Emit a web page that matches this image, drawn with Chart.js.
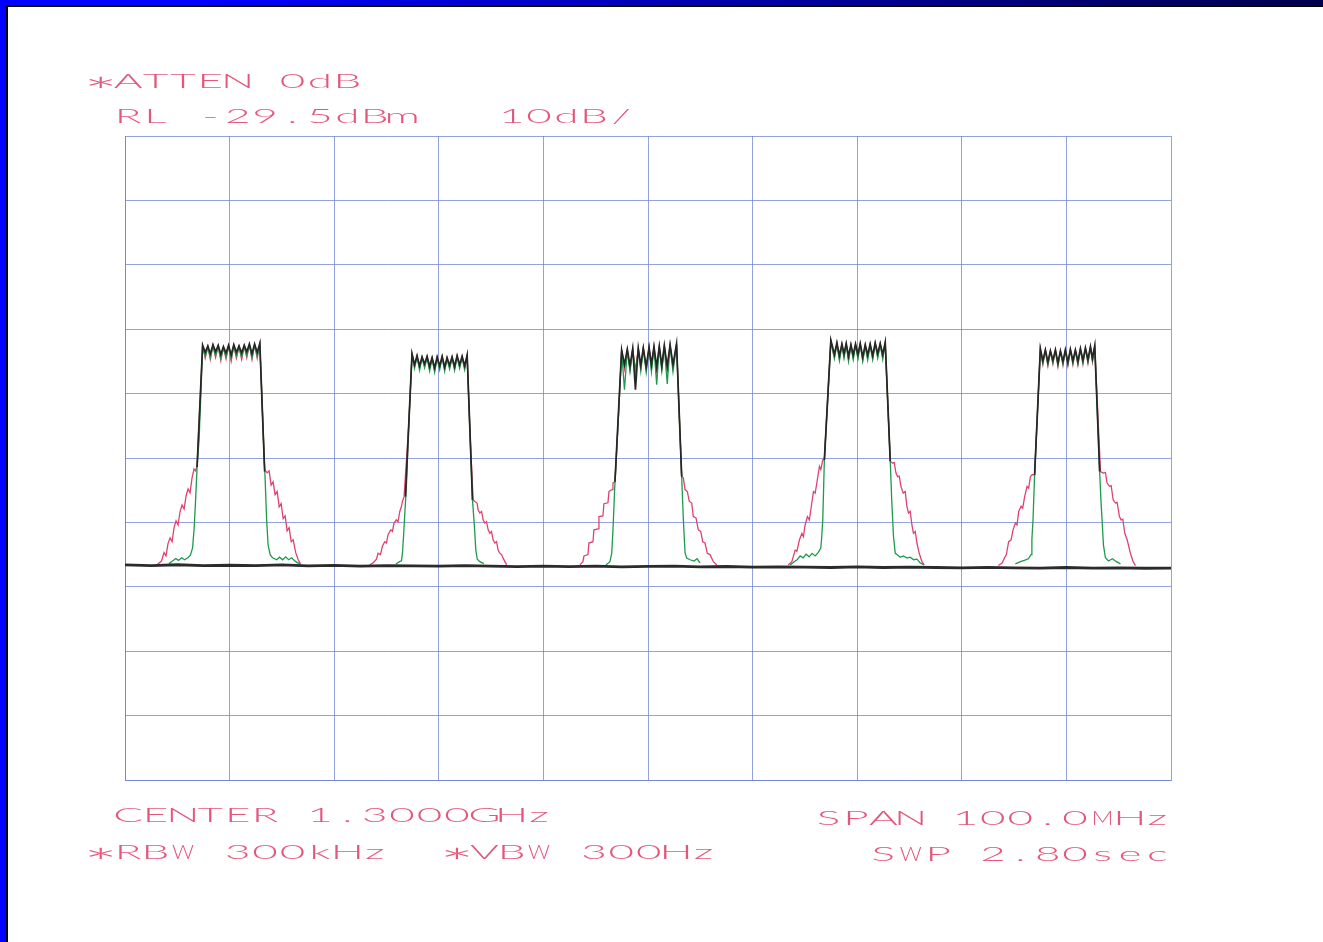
<!DOCTYPE html>
<html><head><meta charset="utf-8">
<script src="https://cdn.jsdelivr.net/npm/chart.js@4.4.1/dist/chart.umd.min.js"></script>
<style>
html,body{margin:0;padding:0;background:#fff;width:1323px;height:942px;overflow:hidden;}
#wrap{position:relative;width:1323px;height:942px;background:#fff;}
canvas{position:absolute;left:0;top:0;}
#txt{position:absolute;left:0;top:0;pointer-events:none;}
.bar{position:absolute;}
</style></head><body>
<div id="wrap">
<canvas id="c" width="1323" height="942"></canvas>
<svg id="txt" width="1323" height="942" xmlns="http://www.w3.org/2000/svg"></svg>
<div class="bar" style="left:0;top:0;width:1323px;height:5px;background:linear-gradient(to right,#0000ff 15%,#00004c 100%)"></div>
<div class="bar" style="left:0;top:5px;width:1323px;height:2px;background:#000"></div>
<div class="bar" style="left:0;top:0;width:6px;height:942px;background:#0000ff"></div>
<div class="bar" style="left:6px;top:5px;width:2px;height:937px;background:#000"></div>
</div>
<script>
// ---- axes (MHz, dBm) ----
const xTicks = [1250,1260,1270,1280,1290,1300,1310,1320,1330,1340,1350];
const yTicks = [-129.5,-119.5,-109.5,-99.5,-89.5,-79.5,-69.5,-59.5,-49.5,-39.5,-29.5];

// ---- noise floor (black) ----
const floorF = [1250,1252.5,1255,1257.5,1260,1262.5,1265,1267.5,1270,1272.5,1275,1277.5,1280,1282.5,1285,1287.5,1290,1292.5,1295,1297.5,1300,1302.5,1305,1307.5,1310,1312.5,1315,1317.5,1320,1322.5,1325,1327.5,1330,1332.5,1335,1337.5,1340,1342.5,1345,1347.5,1350];
const floorV = [-96.10,-96.20,-96.08,-96.22,-96.15,-96.20,-96.10,-96.25,-96.18,-96.30,-96.20,-96.26,-96.30,-96.20,-96.30,-96.36,-96.28,-96.36,-96.30,-96.40,-96.34,-96.30,-96.40,-96.35,-96.45,-96.40,-96.45,-96.50,-96.40,-96.50,-96.45,-96.50,-96.55,-96.48,-96.55,-96.60,-96.50,-96.60,-96.55,-96.62,-96.60];

// ---- channel 1 (1260 MHz) ----
const ch1TopF = [1257.42,1257.67,1257.92,1258.16,1258.41,1258.66,1258.91,1259.16,1259.41,1259.66,1259.90,1260.15,1260.40,1260.65,1260.90,1261.15,1261.40,1261.64,1261.89,1262.14,1262.39,1262.64,1262.89];
const ch1BlackTop = [-62.0,-63.1,-62.1,-63.3,-61.9,-63.0,-62.0,-63.4,-62.2,-63.2,-62.0,-63.5,-61.9,-63.1,-62.1,-63.2,-62.0,-63.0,-61.8,-63.3,-61.8,-63.1,-61.7];
const ch1GreenTop = [-62.2,-63.7,-62.3,-63.9,-62.1,-63.6,-62.2,-64.0,-62.4,-63.8,-62.2,-64.1,-62.1,-63.7,-62.3,-63.8,-62.2,-63.6,-62.0,-63.9,-62.0,-63.7,-61.9];
const ch1RedTop = [-62.1,-64.0,-62.2,-64.2,-62.0,-63.9,-62.1,-64.4,-62.3,-64.1,-62.1,-64.5,-62.0,-64.0,-62.2,-64.2,-62.1,-63.9,-61.9,-64.2,-61.9,-64.0,-61.8];
const ch1BlackL = [[1256.89,-80.9]];
const ch1BlackR = [[1263.35,-81.6]];
const ch1GreenL = [[1254.20,-95.9],[1254.55,-95.5],[1254.85,-95.1],[1255.12,-95.4],[1255.41,-95.0],[1255.70,-95.3],[1256.00,-95.0],[1256.25,-94.6],[1256.46,-93.45],[1256.60,-90.65],[1256.75,-86.0],[1256.89,-81.0],[1257.08,-76.7],[1257.27,-68.9]];
const ch1GreenR = [[1263.05,-68.6],[1263.24,-76.7],[1263.40,-82.9],[1263.54,-89.1],[1263.68,-93.0],[1263.88,-94.5],[1264.11,-95.0],[1264.50,-95.3],[1264.78,-94.9],[1265.07,-95.3],[1265.36,-94.85],[1265.65,-95.3],[1265.93,-95.0],[1266.32,-95.6],[1266.70,-95.95]];
const ch1RedL = [[1253.11,-96.0],[1253.49,-95.5],[1253.73,-94.2],[1253.92,-94.7],[1254.11,-92.8],[1254.31,-91.9],[1254.50,-92.5],[1254.69,-90.3],[1254.88,-89.25],[1255.07,-89.9],[1255.26,-87.85],[1255.45,-86.8],[1255.65,-87.4],[1255.84,-85.4],[1256.03,-84.3],[1256.22,-84.9],[1256.41,-82.6],[1256.60,-81.2],[1256.75,-81.5],[1256.89,-80.7]];
const ch1RedR = [[1263.35,-81.3],[1263.59,-81.8],[1263.78,-81.5],[1263.97,-83.7],[1264.16,-83.2],[1264.35,-85.2],[1264.55,-84.7],[1264.74,-87.1],[1264.93,-86.6],[1265.12,-88.9],[1265.31,-88.5],[1265.50,-90.8],[1265.69,-90.3],[1265.89,-92.5],[1266.08,-92.2],[1266.32,-94.2],[1266.56,-95.3],[1266.79,-96.0]];

// ---- channel 2 (1280 MHz) ----
const ch2TopF = [1277.44,1277.68,1277.92,1278.16,1278.40,1278.64,1278.88,1279.12,1279.36,1279.60,1279.84,1280.08,1280.32,1280.56,1280.79,1281.03,1281.27,1281.51,1281.75,1281.99,1282.23,1282.47,1282.71];
const ch2BlackTop = [-63.3,-65.0,-63.6,-65.2,-63.8,-64.9,-63.7,-65.3,-63.9,-65.5,-63.8,-65.2,-63.7,-65.4,-63.9,-65.1,-63.8,-65.3,-63.6,-65.0,-63.7,-65.2,-63.5];
const ch2GreenTop = [-63.5,-65.6,-63.8,-65.9,-64.0,-65.5,-63.9,-66.0,-64.1,-66.2,-64.0,-65.8,-63.9,-66.0,-64.1,-65.7,-64.0,-65.9,-63.8,-65.6,-63.9,-65.8,-63.7];
const ch2RedTop = [-63.4,-65.3,-63.7,-65.5,-63.9,-65.2,-63.8,-65.6,-64.0,-65.8,-63.9,-65.5,-63.8,-65.7,-64.0,-65.4,-63.9,-65.6,-63.7,-65.3,-63.8,-65.5,-63.6];
const ch2BlackL = [[1276.81,-85.5]];
const ch2BlackR = [[1283.22,-86.0]];
const ch2GreenL = [[1275.90,-95.95],[1276.25,-95.6],[1276.43,-95.47],[1276.53,-94.2],[1276.65,-91.1],[1276.77,-87.5],[1276.89,-84.4],[1277.13,-74.3]];
const ch2GreenR = [[1282.97,-75.1],[1283.22,-86.0],[1283.40,-90.0],[1283.54,-93.8],[1283.68,-95.2],[1283.92,-95.6],[1284.31,-95.9]];
const ch2RedL = [[1273.40,-96.1],[1273.71,-95.8],[1274.04,-95.2],[1274.19,-94.3],[1274.42,-94.5],[1274.61,-93.2],[1274.83,-92.5],[1274.99,-92.7],[1275.15,-91.4],[1275.41,-90.65],[1275.57,-90.9],[1275.72,-89.6],[1275.94,-89.1],[1276.10,-89.4],[1276.27,-87.8],[1276.43,-87.0],[1276.52,-86.25],[1276.68,-85.5],[1277.13,-74.3]];
const ch2RedR = [[1282.97,-75.1],[1283.28,-86.0],[1283.44,-86.25],[1283.66,-86.5],[1283.75,-87.5],[1283.92,-88.05],[1284.09,-87.8],[1284.24,-89.1],[1284.40,-89.6],[1284.56,-89.4],[1284.72,-90.65],[1284.88,-91.2],[1285.04,-90.9],[1285.19,-92.2],[1285.36,-92.7],[1285.52,-92.5],[1285.67,-93.8],[1285.84,-94.3],[1286.00,-94.5],[1286.15,-95.05],[1286.48,-96.1]];

// ---- channel 3 (1300 MHz) ----
const ch3TopF = [1297.48,1297.75,1298.02,1298.28,1298.54,1298.80,1299.07,1299.31,1299.55,1299.83,1300.10,1300.33,1300.57,1300.83,1301.08,1301.32,1301.56,1301.84,1302.11,1302.39,1302.73];
const ch3BlackTop = [-62.7,-65.0,-62.6,-65.2,-62.5,-68.9,-62.45,-65.1,-62.4,-65.3,-62.3,-65.0,-62.2,-65.4,-62.15,-65.2,-62.05,-65.3,-61.9,-65.0,-61.75];
const ch3GreenTop = [-62.85,-68.9,-62.75,-66.1,-62.65,-66.3,-62.6,-66.0,-62.55,-66.2,-62.45,-66.1,-62.35,-68.1,-62.3,-66.0,-62.2,-68.0,-62.05,-66.1,-61.9];
const ch3RedTop = [-62.8,-65.7,-62.7,-65.8,-62.6,-65.9,-62.5,-65.6,-62.45,-65.8,-62.35,-65.7,-62.25,-65.9,-62.2,-65.6,-62.1,-65.8,-61.95,-65.6,-61.8];
const ch3BlackL = [[1296.84,-83.2]];
const ch3BlackR = [[1303.22,-82.4]];
const ch3GreenL = [[1295.98,-96.1],[1296.36,-95.6],[1296.53,-94.3],[1296.62,-91.7],[1296.72,-88.05],[1296.81,-84.4],[1296.94,-80.55],[1297.18,-72.8]];
const ch3GreenR = [[1302.97,-72.0],[1303.22,-82.4],[1303.38,-89.1],[1303.54,-94.2],[1303.70,-95.05],[1304.02,-95.3],[1304.40,-95.5],[1304.69,-95.15],[1304.98,-95.8]];
const ch3RedL = [[1293.49,-96.1],[1293.78,-95.6],[1293.88,-94.7],[1294.26,-94.5],[1294.35,-92.7],[1294.74,-92.5],[1294.83,-90.65],[1295.22,-90.5],[1295.31,-88.6],[1295.69,-88.5],[1295.79,-86.6],[1296.17,-86.45],[1296.27,-84.7],[1296.56,-84.4],[1296.65,-83.35],[1296.84,-83.2],[1297.18,-72.8]];
const ch3RedR = [[1302.97,-72.0],[1303.22,-82.4],[1303.38,-82.6],[1303.54,-84.4],[1303.76,-84.7],[1303.95,-86.25],[1304.18,-86.5],[1304.33,-88.6],[1304.59,-88.8],[1304.81,-90.65],[1305.04,-90.9],[1305.23,-92.5],[1305.45,-92.7],[1305.67,-94.3],[1305.93,-94.5],[1306.25,-95.6],[1306.58,-96.1]];

// ---- channel 4 (1320 MHz) ----
const ch4TopF = [1317.48,1317.82,1318.06,1318.30,1318.54,1318.74,1318.95,1319.17,1319.40,1319.62,1319.84,1320.07,1320.29,1320.53,1320.77,1321.00,1321.24,1321.48,1321.72,1321.96,1322.20,1322.44,1322.68];
const ch4BlackTop = [-61.2,-63.4,-61.6,-63.6,-61.8,-63.3,-61.7,-63.7,-61.9,-63.5,-61.8,-63.4,-61.7,-63.8,-61.9,-63.5,-61.8,-63.6,-61.6,-63.3,-61.7,-63.4,-61.5];
const ch4GreenTop = [-61.4,-64.1,-61.8,-64.4,-62.0,-64.0,-61.9,-64.5,-62.1,-64.2,-62.0,-64.1,-61.9,-64.5,-62.1,-64.3,-62.0,-64.2,-61.8,-64.0,-61.9,-64.2,-61.7];
const ch4RedTop = [-61.3,-63.9,-61.7,-64.1,-61.9,-63.8,-61.8,-64.2,-62.0,-64.0,-61.9,-63.9,-61.8,-64.3,-62.0,-64.0,-61.9,-64.1,-61.7,-63.8,-61.8,-63.9,-61.6];
const ch4BlackL = [[1316.86,-79.8]];
const ch4BlackR = [[1323.16,-80.0]];
const ch4GreenL = [[1313.59,-96.1],[1313.97,-95.6],[1314.26,-95.3],[1314.55,-94.7],[1314.83,-95.0],[1315.12,-94.45],[1315.41,-94.85],[1315.69,-94.3],[1315.98,-94.7],[1316.27,-94.2],[1316.52,-93.5],[1316.59,-92.2],[1316.71,-89.1],[1316.86,-79.8]];
const ch4GreenR = [[1323.16,-80.0],[1323.30,-86.0],[1323.47,-91.7],[1323.64,-94.3],[1323.80,-94.5],[1324.11,-94.9],[1324.43,-94.7],[1324.76,-95.05],[1325.07,-94.9],[1325.39,-95.3],[1325.71,-95.2],[1326.03,-95.8],[1326.40,-96.1]];
const ch4RedL = [[1313.40,-96.1],[1313.75,-95.6],[1314.07,-93.8],[1314.23,-94.0],[1314.48,-92.2],[1314.71,-91.2],[1314.86,-91.7],[1315.02,-89.9],[1315.24,-88.6],[1315.43,-89.1],[1315.57,-87.5],[1315.82,-84.7],[1315.98,-84.95],[1316.14,-83.4],[1316.39,-80.8],[1316.52,-81.3],[1316.71,-79.8],[1316.86,-79.8]];
const ch4RedR = [[1323.16,-80.0],[1323.39,-80.3],[1323.54,-80.2],[1323.70,-81.8],[1323.86,-82.4],[1324.02,-82.3],[1324.18,-83.9],[1324.40,-84.95],[1324.59,-84.7],[1324.75,-87.0],[1324.91,-88.05],[1325.07,-87.8],[1325.23,-89.9],[1325.38,-91.2],[1325.55,-90.9],[1325.71,-92.7],[1325.93,-94.3],[1326.19,-95.6],[1326.41,-96.1]];

// ---- channel 5 (1340 MHz) ----
const ch5TopF = [1337.51,1337.75,1337.99,1338.23,1338.47,1338.71,1338.95,1339.19,1339.43,1339.67,1339.90,1340.14,1340.38,1340.62,1340.86,1341.10,1341.34,1341.58,1341.82,1342.06,1342.30,1342.49,1342.71];
const ch5BlackTop = [-62.5,-64.4,-62.7,-64.6,-62.85,-64.3,-62.7,-64.7,-62.85,-64.5,-62.7,-64.6,-62.6,-64.4,-62.7,-64.5,-62.5,-64.3,-62.4,-64.2,-62.2,-64.0,-62.05];
const ch5GreenTop = [-62.7,-64.8,-62.9,-65.0,-63.0,-64.7,-62.9,-65.1,-63.0,-64.9,-62.9,-65.0,-62.8,-64.8,-62.9,-64.9,-62.7,-64.7,-62.6,-64.6,-62.4,-64.4,-62.2];
const ch5RedTop = [-62.6,-65.0,-62.8,-65.2,-62.9,-64.9,-62.8,-65.3,-62.9,-65.1,-62.8,-65.2,-62.7,-65.0,-62.8,-65.1,-62.6,-64.9,-62.5,-64.8,-62.3,-64.6,-62.1];
const ch5BlackL = [[1336.96,-82.1]];
const ch5BlackR = [[1343.18,-81.6]];
const ch5GreenL = [[1335.12,-95.95],[1335.60,-95.6],[1335.98,-95.4],[1336.36,-95.15],[1336.62,-94.5],[1336.70,-92.2],[1336.81,-89.1],[1336.96,-82.1]];
const ch5GreenR = [[1343.18,-81.6],[1343.30,-86.0],[1343.41,-89.1],[1343.54,-93.0],[1343.73,-95.0],[1344.02,-95.5],[1344.40,-95.15],[1344.78,-95.6],[1345.17,-95.95]];
const ch5RedL = [[1333.49,-96.2],[1333.85,-95.8],[1334.07,-95.05],[1334.26,-94.5],[1334.48,-92.5],[1334.71,-92.2],[1334.90,-90.65],[1335.12,-89.6],[1335.28,-89.9],[1335.44,-87.8],[1335.67,-87.0],[1335.82,-87.3],[1336.01,-85.5],[1336.24,-83.9],[1336.39,-84.2],[1336.56,-82.4],[1336.72,-82.1],[1336.96,-82.1]];
const ch5RedR = [[1343.26,-81.6],[1343.51,-81.85],[1343.73,-81.75],[1343.89,-83.4],[1344.11,-83.9],[1344.28,-83.8],[1344.47,-86.0],[1344.69,-86.5],[1344.85,-86.4],[1345.07,-88.6],[1345.23,-89.1],[1345.39,-89.0],[1345.58,-91.2],[1345.81,-92.2],[1345.96,-93.2],[1346.12,-94.3],[1346.38,-95.6],[1346.60,-96.2]];

// ---- annotation text ----
const textTopLines = ["*ATTEN 0dB", "RL -29.5dBm   10dB/"];
const textBottomLeft = ["CENTER 1.3000GHz", "*RBW 300kHz  *VBW 300Hz"];
const textBottomRight = ["SPAN 100.0MHz", "SWP 2.80sec"];

// ---- assemble datasets ----
const channels = [
  {F:ch1TopF,bT:ch1BlackTop,gT:ch1GreenTop,rT:ch1RedTop,bL:ch1BlackL,bR:ch1BlackR,gL:ch1GreenL,gR:ch1GreenR,rL:ch1RedL,rR:ch1RedR,gap:1270},
  {F:ch2TopF,bT:ch2BlackTop,gT:ch2GreenTop,rT:ch2RedTop,bL:ch2BlackL,bR:ch2BlackR,gL:ch2GreenL,gR:ch2GreenR,rL:ch2RedL,rR:ch2RedR,gap:1290},
  {F:ch3TopF,bT:ch3BlackTop,gT:ch3GreenTop,rT:ch3RedTop,bL:ch3BlackL,bR:ch3BlackR,gL:ch3GreenL,gR:ch3GreenR,rL:ch3RedL,rR:ch3RedR,gap:1310},
  {F:ch4TopF,bT:ch4BlackTop,gT:ch4GreenTop,rT:ch4RedTop,bL:ch4BlackL,bR:ch4BlackR,gL:ch4GreenL,gR:ch4GreenR,rL:ch4RedL,rR:ch4RedR,gap:1330},
  {F:ch5TopF,bT:ch5BlackTop,gT:ch5GreenTop,rT:ch5RedTop,bL:ch5BlackL,bR:ch5BlackR,gL:ch5GreenL,gR:ch5GreenR,rL:ch5RedL,rR:ch5RedR,gap:1350}
];
const toPts = a => a.map(p => ({x:p[0], y:p[1]}));
const zipTop = (F,V) => F.map((f,i) => ({x:f, y:V[i]}));
function build(kind){
  let out = [];
  channels.forEach(c => {
    out = out.concat(toPts(c[kind+'L']), zipTop(c.F, c[kind+'T']), toPts(c[kind+'R']), [{x:c.gap, y:null}]);
  });
  return out;
}
const floorData = floorF.map((f,i)=>({x:f, y:floorV[i]}));

const GRID = 'rgba(105,125,210,0.72)';
new Chart(document.getElementById('c'), {
  type:'line',
  data:{datasets:[
    {label:'floor', data:floorData, borderColor:'#2b2b2b', borderWidth:2.8},
    {label:'black', data:build('b'), borderColor:'#262626', borderWidth:1.7, spanGaps:false},
    {label:'green', data:build('g'), borderColor:'#1e9a4c', borderWidth:1.3, spanGaps:false},
    {label:'red', data:build('r'), borderColor:'#e0426f', borderWidth:1.3, spanGaps:false}
  ]},
  options:{
    responsive:false, animation:false, devicePixelRatio:1,
    layout:{padding:{left:125,top:136,right:152,bottom:162}},
    elements:{point:{radius:0}, line:{tension:0, fill:false}},
    plugins:{legend:{display:false}, tooltip:{enabled:false}},
    scales:{
      x:{type:'linear', min:1250, max:1350,
         afterBuildTicks:s=>{s.ticks = xTicks.map(v=>({value:v}));},
         ticks:{display:false}, grid:{color:GRID, lineWidth:1, drawTicks:false},
         border:{display:true, color:GRID, width:1}},
      y:{type:'linear', min:-129.5, max:-29.5,
         afterBuildTicks:s=>{s.ticks = yTicks.map(v=>({value:v}));},
         ticks:{display:false}, grid:{color:GRID, lineWidth:1, drawTicks:false},
         border:{display:true, color:GRID, width:1}}
    }
  }
});

// ---- plotter-style text (SVG, fixed pitch) ----
const SVGNS = 'http://www.w3.org/2000/svg';
const svg = document.getElementById('txt');
const PITCH = 27.4, SX = 2.2, FS = 20;
function addLine(str, left, baseline){
  const t = document.createElementNS(SVGNS,'text');
  t.setAttribute('transform', `translate(${left},${baseline}) scale(${SX},1)`);
  t.setAttribute('fill', '#e4577b');
  t.setAttribute('font-family', 'Lato, "DejaVu Sans", sans-serif');
  t.setAttribute('font-weight', '300');
  t.setAttribute('font-size', FS);
  t.setAttribute('text-anchor', 'middle');
  t.setAttribute('style', 'white-space:pre');
  [...str].forEach((ch,i) => {
    const s = document.createElementNS(SVGNS,'tspan');
    const cx = (i+0.5)*PITCH/SX;
    if (ch === 'M' || ch === 'W') {
      const w = 22/SX;
      s.setAttribute('x', (cx - w/2).toFixed(2));
      s.setAttribute('text-anchor', 'start');
      s.setAttribute('textLength', w.toFixed(2));
      s.setAttribute('lengthAdjust', 'spacingAndGlyphs');
    } else {
      s.setAttribute('x', cx.toFixed(2));
    }
    if (ch === '*') { s.setAttribute('y', '17'); s.setAttribute('font-size', '38'); }
    else { s.setAttribute('y', '0'); }
    s.textContent = ch;
    t.appendChild(s);
  });
  svg.appendChild(t);
}
addLine(textTopLines[0], 87, 88);
addLine(textTopLines[1], 87 + PITCH, 123);
addLine(textBottomLeft[0], 87 + PITCH, 822);
addLine(textBottomLeft[1], 87, 859);
addLine(textBottomRight[0], 1171 - textBottomRight[0].length*PITCH, 825);
addLine(textBottomRight[1], 1171 - textBottomRight[1].length*PITCH, 861);
</script>
</body></html>
